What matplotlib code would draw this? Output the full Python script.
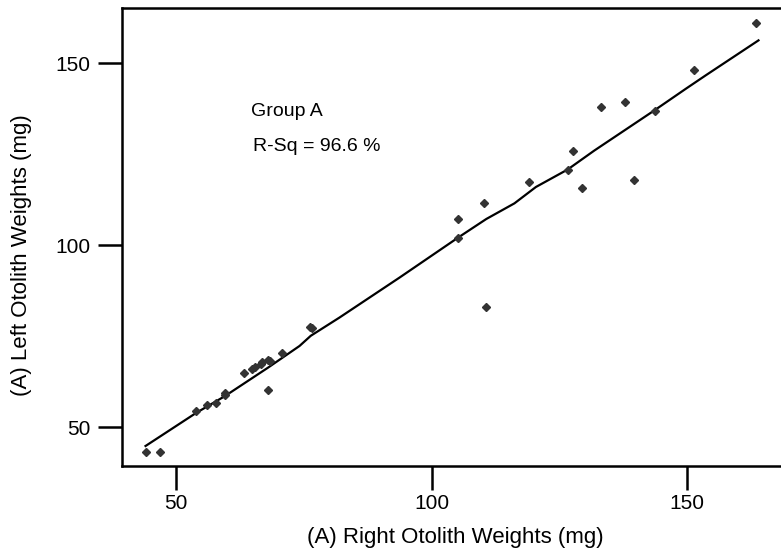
import matplotlib
matplotlib.use("Agg")
import matplotlib.pyplot as plt

plt.rcParams["font.family"] = ["Liberation Sans", "DejaVu Sans"]

# right / left otolith weights (mg)
right_weights = [44.1, 47.0, 54.0, 56.2, 57.9, 59.6, 59.7, 63.3, 65.0, 65.4,
                 66.6, 66.9, 68.0, 68.5, 68.0, 70.8, 76.2, 76.7, 105.1, 105.1,
                 110.2, 110.6, 119.0, 126.6, 127.7, 129.4, 133.2, 137.9, 139.5,
                 143.7, 151.2, 163.4]
left_weights = [43.1, 43.1, 54.4, 56.0, 56.6, 58.8, 59.4, 65.0, 66.1, 66.6,
                67.4, 67.9, 68.4, 68.2, 60.2, 70.3, 77.5, 77.2, 107.3, 102.0,
                111.5, 83.1, 117.3, 120.8, 126.0, 115.6, 138.1, 139.3, 118.0,
                136.8, 148.1, 161.0]

# fitted curve vertices
fit_x = [44.1, 54.0, 59.6, 68.0, 74.2, 76.4, 82.0, 93.75, 105.1, 110.7,
         116.2, 120.4, 126.6, 131.8, 143.6, 149.7, 153.6, 163.9]
fit_y = [44.8, 53.9, 58.5, 66.3, 72.3, 75.1, 80.1, 91.1, 102.0, 107.2,
         111.5, 116.0, 120.8, 126.0, 137.1, 143.0, 146.7, 156.3]

ticks = [50, 100, 150]

fig = plt.figure(figsize=(7.81, 5.54), dpi=100)
ax = fig.add_axes([122 / 781, 1 - 466 / 554, (781 - 122) / 781, (466 - 8) / 554])

ax.plot(fit_x, fit_y, color="black", linewidth=1.6)
ax.plot(right_weights, left_weights, linestyle="none", marker="D",
        markersize=4.5, color="#333333")

ax.set_xlim(39.5, 168.3)
ax.set_ylim(39.3, 165.2)
ax.set_xticks(ticks)
ax.set_yticks(ticks)
ax.tick_params(direction="out", length=17, width=1.8, labelsize=15)
ax.tick_params(axis="x", pad=3)
ax.tick_params(axis="y", pad=6)

for side in ("left", "bottom", "top"):
    ax.spines[side].set_linewidth(1.8)
ax.spines["right"].set_visible(False)

ax.set_xlabel("(A) Right Otolith Weights (mg)", fontsize=16)
ax.set_ylabel("(A) Left Otolith Weights (mg)", fontsize=16)
ax.xaxis.set_label_coords((455 - 122) / 659, -(537 - 466) / 458)
ax.yaxis.set_label_coords(-(122 - 22) / 659, (466 - 255) / 458)
ax.xaxis.label.set_verticalalignment("center")
ax.yaxis.label.set_verticalalignment("center")

ax.text(64.8, 135.5, "Group A", fontsize=14, va="baseline")
ax.text(65.2, 125.8, "R-Sq = 96.6 %", fontsize=14, va="baseline")

fig.savefig("out.png", dpi=100)
